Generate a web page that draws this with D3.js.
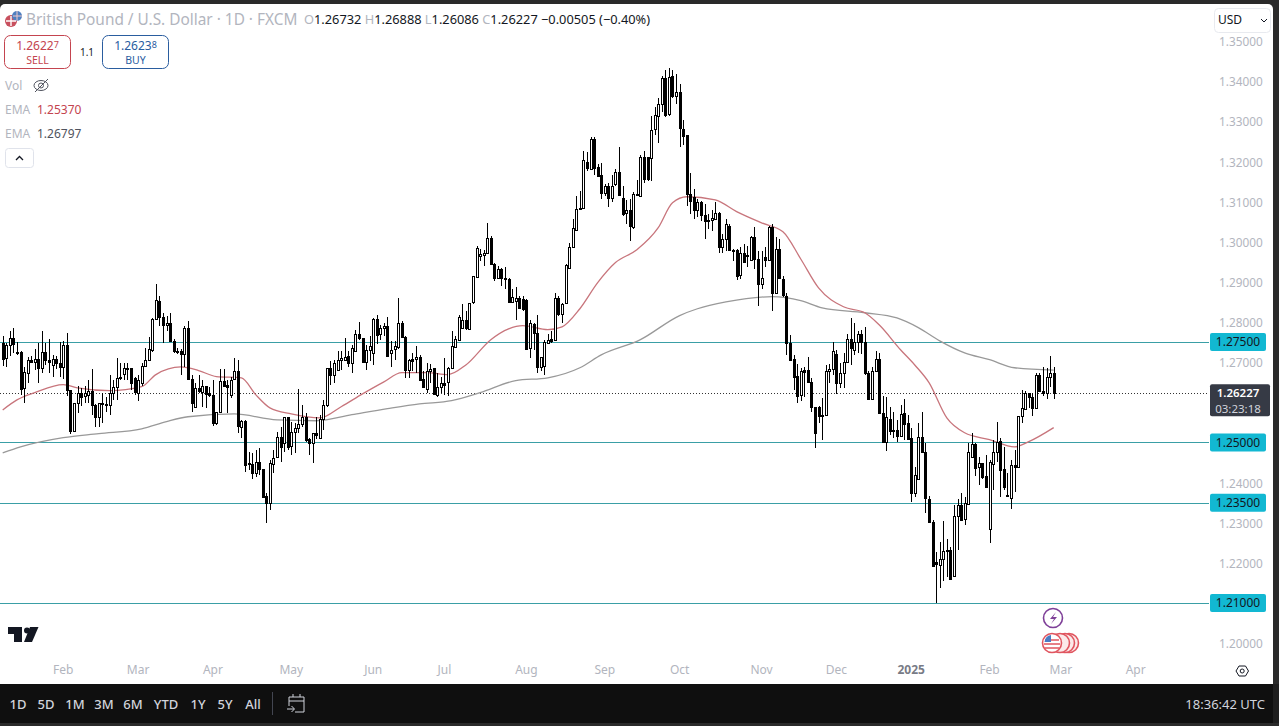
<!DOCTYPE html>
<html><head><meta charset="utf-8">
<script src="https://cdn.jsdelivr.net/npm/d3@7/dist/d3.min.js"></script>
<style>html,body{margin:0;padding:0;background:#fff;overflow:hidden}svg{display:block}text{font-family:"Noto Sans",sans-serif}</style>
</head><body><div id="c"></div>
<script>
const opens=[1.2748,1.2709,1.2742,1.2760,1.2726,1.2726,1.2634,1.2674,1.2706,1.2700,
1.2708,1.2685,1.2725,1.2706,1.2693,1.2708,1.2698,1.2688,1.2743,1.2631,
1.2529,1.2598,1.2624,1.2616,1.2618,1.2627,1.2593,1.2564,1.2598,1.2596,
1.2593,1.2623,1.2638,1.2663,1.2671,1.2685,1.2685,1.2660,1.2624,1.2648,
1.2691,1.2706,1.2731,1.2808,1.2853,1.2812,1.2792,1.2798,1.2753,1.2729,
1.2729,1.2721,1.2785,1.2658,1.2588,1.2635,1.2627,1.2641,1.2623,1.2618,
1.2549,1.2577,1.2654,1.2644,1.2618,1.2656,1.2677,1.2539,1.2553,1.2449,
1.2446,1.2424,1.2452,1.2435,1.2366,1.2348,1.2448,1.2462,1.2513,1.2498,
1.2563,1.2489,1.2525,1.2535,1.2545,1.2563,1.2508,1.2498,1.2523,1.2510,
1.2558,1.2593,1.2685,1.2668,1.2681,
1.2706,1.2706,1.2716,1.2698,1.2727,1.2769,1.2760,1.2700,1.2731,1.2723,
1.2808,1.2769,1.2785,1.2789,1.2723,1.2731,1.2739,1.2798,1.2763,1.2681,
1.2708,1.2708,1.2714,1.2658,1.2631,1.2677,1.2685,1.2619,1.2639,1.2649,
1.2649,1.2685,1.2739,1.2756,1.2785,1.2804,1.2783,1.2848,1.2914,1.2963,
1.2969,1.2973,1.3010,1.2945,1.2910,1.2933,1.2910,1.2906,1.2849,1.2852,
1.2860,1.2858,1.2856,1.2735,1.2794,1.2773,1.2689,1.2689,1.2749,1.2758,
1.2756,1.2860,1.2821,1.2846,1.2935,1.2985,1.3029,1.3082,1.3084,1.3198,
1.3182,1.3257,1.3187,1.3165,1.3121,1.3140,1.3109,1.3142,1.3173,1.3109,
1.3071,1.3078,1.3038,1.3119,1.3115,1.3212,1.3211,1.3209,1.3279,1.3315,
1.3344,1.3409,1.3320,1.3412,1.3363,1.3372,1.3282,1.3265,1.3119,1.3112,
1.3079,1.3100,1.3067,1.3055,1.3052,1.3056,1.3071,1.2986,1.3007,1.3038,
1.2979,1.2979,1.2917,1.2973,1.2967,1.2954,1.3011,1.2957,1.2894,1.2961,
1.2954,1.3037,1.2873,1.2982,1.2906,1.2866,1.2748,1.2708,1.2666,1.2617,
1.2681,1.2681,1.2650,1.2589,1.2589,1.2567,1.2567,1.2677,1.2681,1.2721,
1.2648,1.2673,1.2700,1.2758,1.2729,1.2750,1.2770,1.2750,1.2673,1.2610,
1.2679,1.2708,1.2573,1.2500,1.2558,1.2529,1.2531,1.2517,1.2573,1.2548,
1.2510,1.2374,1.2408,1.2513,1.2475,1.2360,1.2302,1.2202,1.2196,1.2210,
1.2231,1.2233,1.2167,1.2317,1.2345,1.2308,1.2348,1.2463,1.2496,1.2437,
1.2448,1.2416,1.2285,1.2448,1.2477,1.2503,1.2433,1.2368,1.2364,1.2445,
1.2439,1.2564,1.2583,1.2623,1.2613,1.2585,1.2668,1.2629,1.2623,1.2663,
1.26732];
const highs=[1.2766,1.2748,1.2777,1.2785,1.2751,1.2728,1.2688,1.2713,1.2716,1.2733,
1.2748,1.2777,1.2748,1.2758,1.2718,1.2716,1.2750,1.2753,1.2773,1.2631,
1.2598,1.2641,1.2635,1.2641,1.2656,1.2683,1.2596,1.2599,1.2624,1.2614,
1.2668,1.2656,1.2710,1.2699,1.2699,1.2698,1.2685,1.2664,1.2668,1.2698,
1.2735,1.2763,1.2810,1.2894,1.2864,1.2823,1.2814,1.2823,1.2758,1.2735,
1.2733,1.2789,1.2802,1.2668,1.2648,1.2668,1.2656,1.2641,1.2639,1.2656,
1.2577,1.2683,1.2683,1.2656,1.2663,1.2710,1.2706,1.2556,1.2556,1.2477,
1.2473,1.2481,1.2485,1.2435,1.2373,1.2456,1.2481,1.2527,1.2539,1.2564,
1.2563,1.2552,1.2548,1.2633,1.2593,1.2573,1.2510,1.2524,1.2564,1.2568,
1.2606,1.2685,1.2702,1.2706,1.2727,
1.2727,1.2760,1.2727,1.2743,1.2779,1.2800,1.2760,1.2743,1.2766,1.2810,
1.2818,1.2793,1.2798,1.2813,1.2752,1.2752,1.2860,1.2802,1.2764,1.2708,
1.2723,1.2741,1.2718,1.2677,1.2698,1.2696,1.2685,1.2673,1.2664,1.2710,
1.2689,1.2777,1.2764,1.2818,1.2845,1.2827,1.2848,1.2914,1.2989,1.2983,
1.2979,1.3046,1.3014,1.2948,1.2939,1.2935,1.2938,1.2910,1.2881,1.2888,
1.2866,1.2864,1.2858,1.2806,1.2798,1.2818,1.2714,1.2754,1.2771,1.2777,
1.2871,1.2866,1.2848,1.2944,1.2998,1.3056,1.3115,1.3127,1.3227,1.3223,
1.3262,1.3262,1.3194,1.3196,1.3144,1.3146,1.3165,1.3182,1.3237,1.3140,
1.3104,1.3107,1.3123,1.3154,1.3215,1.3226,1.3211,1.3312,1.3336,1.3357,
1.3412,1.3427,1.3432,1.3427,1.3419,1.3393,1.3302,1.3265,1.3172,1.3132,
1.3107,1.3102,1.3094,1.3068,1.3080,1.3100,1.3073,1.3019,1.3057,1.3044,
1.2982,1.2982,1.2986,1.2994,1.2990,1.3015,1.3037,1.2977,1.2976,1.2986,
1.3040,1.3044,1.3011,1.3007,1.2914,1.2873,1.2768,1.2718,1.2695,1.2685,
1.2689,1.2713,1.2660,1.2589,1.2591,1.2610,1.2694,1.2696,1.2750,1.2731,
1.2698,1.2723,1.2771,1.2810,1.2798,1.2778,1.2781,1.2788,1.2677,1.2689,
1.2727,1.2723,1.2616,1.2612,1.2589,1.2577,1.2556,1.2593,1.2608,1.2568,
1.2535,1.2440,1.2549,1.2577,1.2498,1.2366,1.2306,1.2227,1.2252,1.2304,
1.2260,1.2239,1.2343,1.2360,1.2374,1.2364,1.2499,1.2523,1.2498,1.2464,
1.2449,1.2468,1.2456,1.2506,1.2550,1.2510,1.2489,1.2423,1.2456,1.2481,
1.2566,1.2631,1.2629,1.2624,1.2623,1.2673,1.2673,1.2689,1.2685,1.2716,
1.26888];
const lows=[1.2691,1.2688,1.2716,1.2723,1.2718,1.2618,1.2598,1.2648,1.2698,1.2681,
1.2649,1.2674,1.2693,1.2673,1.2664,1.2683,1.2663,1.2658,1.2616,1.2520,
1.2529,1.2573,1.2591,1.2598,1.2598,1.2569,1.2538,1.2539,1.2549,1.2577,
1.2569,1.2606,1.2606,1.2656,1.2656,1.2656,1.2631,1.2618,1.2602,1.2641,
1.2688,1.2706,1.2725,1.2806,1.2789,1.2748,1.2777,1.2752,1.2723,1.2721,
1.2668,1.2688,1.2656,1.2577,1.2588,1.2623,1.2589,1.2587,1.2613,1.2541,
1.2544,1.2577,1.2639,1.2574,1.2610,1.2656,1.2523,1.2510,1.2427,1.2431,
1.2408,1.2414,1.2418,1.2364,1.2299,1.2331,1.2424,1.2460,1.2452,1.2477,
1.2481,1.2468,1.2473,1.2523,1.2539,1.2502,1.2468,1.2448,1.2508,1.2510,
1.2531,1.2589,1.2643,1.2648,1.2681,
1.2681,1.2702,1.2689,1.2674,1.2727,1.2754,1.2699,1.2681,1.2702,1.2693,
1.2745,1.2756,1.2766,1.2714,1.2689,1.2706,1.2733,1.2760,1.2660,1.2660,
1.2677,1.2673,1.2656,1.2639,1.2623,1.2648,1.2619,1.2614,1.2623,1.2619,
1.2616,1.2683,1.2735,1.2756,1.2783,1.2781,1.2781,1.2846,1.2910,1.2952,
1.2939,1.2971,1.2944,1.2902,1.2908,1.2889,1.2881,1.2849,1.2847,1.2806,
1.2835,1.2827,1.2731,1.2710,1.2731,1.2674,1.2677,1.2667,1.2748,1.2748,
1.2756,1.2816,1.2798,1.2846,1.2933,1.2985,1.3027,1.3079,1.3082,1.3177,
1.3179,1.3165,1.3161,1.3107,1.3115,1.3086,1.3098,1.3140,1.3115,1.3065,
1.3044,1.3001,1.3032,1.3115,1.3115,1.3146,1.3152,1.3151,1.3265,1.3246,
1.3323,1.3311,1.3313,1.3359,1.3344,1.3236,1.3240,1.3088,1.3069,1.3057,
1.3061,1.3052,1.3008,1.3032,1.3027,1.3054,1.2973,1.2971,1.2977,1.2976,
1.2952,1.2905,1.2907,1.2948,1.2938,1.2952,1.2932,1.2840,1.2882,1.2936,
1.2952,1.2828,1.2869,1.2907,1.2863,1.2719,1.2702,1.2631,1.2598,1.2602,
1.2614,1.2648,1.2577,1.2487,1.2548,1.2506,1.2566,1.2648,1.2668,1.2620,
1.2635,1.2635,1.2698,1.2694,1.2717,1.2723,1.2721,1.2668,1.2606,1.2610,
1.2678,1.2570,1.2498,1.2478,1.2518,1.2510,1.2502,1.2514,1.2506,1.2506,
1.2352,1.2364,1.2406,1.2473,1.2323,1.2299,1.2191,1.2100,1.2138,1.2156,
1.2166,1.2158,1.2166,1.2231,1.2306,1.2295,1.2348,1.2460,1.2416,1.2395,
1.2408,1.2386,1.2250,1.2381,1.2452,1.2363,1.2381,1.2364,1.2335,1.2377,
1.2438,1.2549,1.2581,1.2586,1.2566,1.2583,1.2627,1.2616,1.2608,1.2639,
1.26086];
const closes=[1.2709,1.2742,1.2760,1.2746,1.2723,1.2635,1.2675,1.2706,1.2700,1.2708,
1.2685,1.2725,1.2706,1.2702,1.2708,1.2698,1.2688,1.2743,1.2631,1.2529,
1.2598,1.2624,1.2614,1.2624,1.2627,1.2591,1.2564,1.2598,1.2596,1.2593,
1.2623,1.2639,1.2660,1.2660,1.2685,1.2683,1.2648,1.2624,1.2656,1.2691,
1.2706,1.2733,1.2808,1.2856,1.2812,1.2792,1.2798,1.2752,1.2729,1.2726,
1.2721,1.2785,1.2658,1.2599,1.2635,1.2627,1.2641,1.2621,1.2618,1.2549,
1.2577,1.2654,1.2642,1.2638,1.2656,1.2677,1.2539,1.2553,1.2444,1.2446,
1.2424,1.2452,1.2435,1.2366,1.2348,1.2448,1.2462,1.2513,1.2487,1.2563,
1.2489,1.2525,1.2535,1.2545,1.2563,1.2506,1.2498,1.2523,1.2519,1.2558,
1.2593,1.2685,1.2668,1.2698,1.2706,
1.2710,1.2714,1.2698,1.2735,1.2769,1.2758,1.2700,1.2731,1.2741,1.2808,
1.2769,1.2785,1.2789,1.2714,1.2731,1.2739,1.2798,1.2763,1.2681,1.2706,
1.2704,1.2714,1.2656,1.2639,1.2677,1.2683,1.2620,1.2639,1.2648,1.2645,
1.2685,1.2739,1.2758,1.2813,1.2804,1.2783,1.2848,1.2914,1.2985,1.2969,
1.2973,1.3010,1.2944,1.2910,1.2933,1.2910,1.2908,1.2849,1.2862,1.2860,
1.2835,1.2833,1.2735,1.2798,1.2771,1.2689,1.2714,1.2749,1.2756,1.2754,
1.2860,1.2819,1.2846,1.2941,1.2988,1.3033,1.3082,1.3084,1.3204,1.3182,
1.3257,1.3186,1.3165,1.3119,1.3138,1.3109,1.3140,1.3173,1.3115,1.3068,
1.3078,1.3038,1.3119,1.3117,1.3212,1.3157,1.3155,1.3279,1.3315,1.3344,
1.3409,1.3318,1.3411,1.3363,1.3372,1.3282,1.3265,1.3119,1.3102,1.3079,
1.3100,1.3067,1.3052,1.3054,1.3058,1.3071,1.2986,1.3007,1.3044,1.2978,
1.2976,1.2915,1.2973,1.2950,1.2964,1.3011,1.2955,1.2894,1.2909,1.2954,
1.3037,1.2873,1.2982,1.2909,1.2866,1.2748,1.2706,1.2664,1.2617,1.2678,
1.2677,1.2650,1.2588,1.2523,1.2566,1.2568,1.2677,1.2683,1.2727,1.2648,
1.2673,1.2700,1.2758,1.2735,1.2750,1.2770,1.2750,1.2673,1.2608,1.2679,
1.2708,1.2573,1.2500,1.2563,1.2529,1.2531,1.2517,1.2571,1.2546,1.2508,
1.2374,1.2418,1.2513,1.2475,1.2360,1.2302,1.2193,1.2196,1.2210,1.2229,
1.2233,1.2160,1.2317,1.2345,1.2308,1.2348,1.2477,1.2496,1.2437,1.2448,
1.2413,1.2388,1.2452,1.2477,1.2502,1.2431,1.2389,1.2365,1.2445,1.2441,
1.2566,1.2585,1.2623,1.2613,1.2585,1.2668,1.2629,1.2625,1.2663,1.2673,
1.26227];
const emaFastBars=[0,4,9,17,21,30,39,43,50,55,60,67,71,75,81,89,95,101,107,112,119,125,130,137,142,146,153,157,162,167,172,178,184,188,192,200,206,213,219,224,229,236,242,246,252,256,260,265,270,277,284,288,295];
const emaFast=[1.2581,1.2606,1.2624,1.2644,1.2636,1.2629,1.2639,1.2669,1.2688,1.2679,1.2664,1.2661,1.2619,1.2586,1.2571,1.2561,1.2589,1.2621,1.2651,1.2674,1.2674,1.2669,1.2693,1.2756,1.2783,1.2791,1.2781,1.2788,1.2833,1.2898,1.2948,1.2980,1.3035,1.3097,1.3112,1.3104,1.3075,1.3047,1.3025,1.2957,1.2885,1.2838,1.2823,1.2793,1.2731,1.2693,1.2649,1.2561,1.2524,1.2507,1.2489,1.2502,1.2537];
const emaSlowBars=[0,5,17,27,39,46,52,65,77,88,98,108,117,126,134,144,153,162,168,179,190,195,203,216,224,230,242,251,257,263,270,277,284,295];
const emaSlow=[1.2474,1.2489,1.2512,1.2522,1.2534,1.2552,1.2564,1.2571,1.2556,1.2554,1.2569,1.2584,1.2596,1.2604,1.2624,1.2654,1.2661,1.2686,1.2718,1.2756,1.2816,1.2833,1.2850,1.2863,1.2853,1.2835,1.2823,1.2810,1.2786,1.2753,1.2723,1.2706,1.2686,1.2680];
const levels=[1.275,1.25,1.235,1.21];
const priceTicks=[1.35,1.34,1.33,1.32,1.31,1.30,1.29,1.28,1.27,1.24,1.23,1.22,1.20];
const timeBars=[17,38,59,81,104,124,147,169,190,213,234,255,277,297,318];
const timeLabels=["Feb","Mar","Apr","May","Jun","Jul","Aug","Sep","Oct","Nov","Dec","2025","Feb","Mar","Apr"];
const ranges=["1D","5D","1M","3M","6M","YTD","1Y","5Y","All"];
const rangeX=[18,46,75,104,133,166,198,225,253];
const lastPrice=1.26227;
const W=1279,H=726;
const svg=d3.select("#c").append("svg").attr("width",W).attr("height",H);
const x=d3.scaleLinear().domain([0,opens.length-1]).range([2.7,1053.7]);
const y=d3.scaleLinear().domain([1.21,1.35]).range([603,41]);
const AX=1209;
const T="#b2b5be";

// frame
svg.append("rect").attr("width",W).attr("height",H).attr("fill","#2a2a2a");
svg.append("rect").attr("x",0).attr("y",4).attr("width",1273).attr("height",690).attr("rx",5).attr("fill","#fff");
svg.append("rect").attr("x",0).attr("y",684).attr("width",1273).attr("height",39).attr("fill","#0f0f0f");
svg.append("rect").attr("x",1273).attr("y",684).attr("width",6).attr("height",39).attr("fill","#1e1e1e");

// level lines
svg.append("g").selectAll("line").data(levels).join("line")
 .attr("x1",0).attr("x2",AX).attr("y1",d=>Math.round(y(d))+.5).attr("y2",d=>Math.round(y(d))+.5)
 .attr("stroke","#3a9fa6").attr("stroke-width",1);
// last price line
svg.append("line").attr("x1",0).attr("x2",AX).attr("y1",Math.round(y(lastPrice))+.5).attr("y2",Math.round(y(lastPrice))+.5)
 .attr("stroke","#333").attr("stroke-dasharray","1 2");

// EMAs
const curve=d3.curveMonotoneX;
const mk=(bars,vals,c,o)=>svg.append("path").datum(bars.map((b,i)=>[b,vals[i]]))
 .attr("fill","none").attr("stroke",c).attr("stroke-width",1.3).attr("stroke-opacity",o)
 .attr("d",d3.line().x(d=>x(d[0])).y(d=>y(d[1])).curve(curve));
mk(emaSlowBars,emaSlow,"#999999",1);
mk(emaFastBars,emaFast,"#c8757c",1);

// candles
const idx=d3.range(opens.length);
const g=svg.append("g").attr("shape-rendering","crispEdges");
g.selectAll("line").data(idx).join("line")
 .attr("x1",i=>Math.round(x(i))+.5).attr("x2",i=>Math.round(x(i))+.5)
 .attr("y1",i=>y(highs[i])).attr("y2",i=>y(lows[i])).attr("stroke","#000");
g.selectAll("rect").data(idx).join("rect")
 .attr("x",i=>Math.round(x(i))-.5).attr("width",2)
 .attr("y",i=>Math.round(y(Math.max(opens[i],closes[i])))+.5)
 .attr("height",i=>Math.max(1,Math.round(Math.abs(y(opens[i])-y(closes[i])))))
 .attr("fill",i=>closes[i]>=opens[i]?"#fff":"#000").attr("stroke","#000");

// price axis
const ax=d3.axisRight(y).tickValues(priceTicks).tickSize(0).tickPadding(0).tickFormat(d=>d.toFixed(5));
const ag=svg.append("g").attr("transform","translate(1219,0.8)").call(ax);
ag.select(".domain").remove();
ag.selectAll("text").attr("fill",T).attr("font-size",11.8).style("font-family",'"Noto Sans",sans-serif');

// level labels
const lv=svg.append("g").selectAll("g").data(levels).join("g").attr("transform",d=>`translate(1210,${y(d)})`);
lv.append("rect").attr("y",-9).attr("width",56).attr("height",18).attr("rx",2).attr("fill","#12b8d2");
lv.append("text").attr("x",28).attr("y",4.3).attr("text-anchor","middle").attr("font-size",12).attr("fill","#131722").text(d=>d.toFixed(5));
// last price box
const ly=y(lastPrice);
svg.append("rect").attr("x",1210).attr("y",ly-9).attr("width",60).attr("height",32).attr("rx",2).attr("fill","#363a45");
svg.append("text").attr("x",1238).attr("y",ly+3.6).attr("text-anchor","middle").attr("font-size",11.5).attr("font-weight",600).attr("fill","#fff").text(lastPrice.toFixed(5));
svg.append("text").attr("x",1238).attr("y",ly+19.6).attr("text-anchor","middle").attr("font-size",11.5).attr("fill","#d1d4dc").text("03:23:18");

// time axis
svg.append("g").selectAll("text").data(timeBars).join("text")
 .attr("x",d=>x(d)).attr("y",674).attr("text-anchor","middle").attr("font-size",12)
 .attr("fill",(d,i)=>timeLabels[i]==="2025"?"#787b86":T).attr("font-weight",(d,i)=>timeLabels[i]==="2025"?700:400)
 .text((d,i)=>timeLabels[i]);

// header
svg.append("text").attr("x",26).attr("y",24.5).attr("font-size",15.4).attr("fill",T).text("British Pound / U.S. Dollar · 1D · FXCM");
const o=svg.append("text").attr("x",304).attr("y",24).attr("font-size",12.8);
[["O",T],["1.26732","#131722"],[" H",T],["1.26888","#131722"],[" L",T],["1.26086","#131722"],[" C",T],["1.26227","#131722"],[" −0.00505 (−0.40%)","#131722"]]
 .forEach(([t,c])=>o.append("tspan").attr("fill",c).attr("xml:space","preserve").text(t));
// flag icon
svg.append("circle").attr("cx",11).attr("cy",21).attr("r",6).attr("fill","#c8505e");
svg.append("circle").attr("cx",17).attr("cy",16).attr("r",5).attr("fill","#4f7fc0");
svg.append("path").attr("d","M6 21H16M11 16V26").attr("stroke","#fff").attr("stroke-width",1.4);
svg.append("path").attr("d","M13 16H22M17 11V21").attr("stroke","#f0c8c8").attr("stroke-width",1);

// sell/buy
const btn=(bx,c,price,sup,label)=>{
 svg.append("rect").attr("x",bx+.5).attr("y",35.5).attr("width",66).attr("height",33).attr("rx",6).attr("fill","#fff").attr("stroke",c);
 const t=svg.append("text").attr("x",bx+33.5).attr("y",50).attr("text-anchor","middle").attr("font-size",12).attr("fill",c);
 t.append("tspan").text(price);t.append("tspan").attr("font-size",9).attr("dy",-2).text(sup);
 svg.append("text").attr("x",bx+33.5).attr("y",63.5).attr("text-anchor","middle").attr("font-size",10.5).attr("fill",c).text(label);
};
btn(4,"#c4444f","1.2622","7","SELL");
btn(102,"#2a5d9f","1.2623","8","BUY");
svg.append("text").attr("x",87).attr("y",56).attr("text-anchor","middle").attr("font-size",10).attr("fill","#131722").text("1.1");
svg.append("text").attr("x",5).attr("y",90).attr("font-size",12).attr("fill",T).text("Vol");
// hidden eye
svg.append("ellipse").attr("cx",41).attr("cy",85.5).attr("rx",7).attr("ry",5).attr("fill","none").attr("stroke","#50535e");
svg.append("circle").attr("cx",41).attr("cy",85.5).attr("r",2.5).attr("fill","none").attr("stroke","#50535e");
svg.append("line").attr("x1",35).attr("y1",92).attr("x2",48).attr("y2",79).attr("stroke","#50535e");
svg.append("text").attr("x",5).attr("y",114).attr("font-size",12).attr("fill",T).text("EMA");
svg.append("text").attr("x",37).attr("y",114).attr("font-size",12).attr("fill","#c4444f").text("1.25370");
svg.append("text").attr("x",5).attr("y",138).attr("font-size",12).attr("fill",T).text("EMA");
svg.append("text").attr("x",37).attr("y",138).attr("font-size",12).attr("fill","#50535e").text("1.26797");
svg.append("rect").attr("x",5.5).attr("y",148.5).attr("width",28).attr("height",19).attr("rx",3).attr("fill","#fff").attr("stroke","#e0e3eb");
svg.append("path").attr("d","M16 160L19.500 156.500L23 160").attr("fill","none").attr("stroke","#131722").attr("stroke-width",1.3);

// currency
svg.append("rect").attr("x",1214.5).attr("y",8.5).attr("width",56).attr("height",24).attr("rx",4).attr("fill","#fff").attr("stroke","#e8eaef");
svg.append("text").attr("x",1218).attr("y",24).attr("font-size",12).attr("fill","#131722").text("USD");
svg.append("path").attr("d","M1261 19L1264 22L1267 19").attr("fill","none").attr("stroke","#131722");

// logo
svg.append("path").attr("d","M8 627H22V642H14V634H8Z").attr("fill","#131722");
svg.append("circle").attr("cx",27).attr("cy",630.500).attr("r",3).attr("fill","#131722");
svg.append("path").attr("d","M30 627H38.500L32 642H24Z").attr("fill","#131722");

// events
svg.append("circle").attr("cx",1053).attr("cy",618).attr("r",9.500).attr("fill","#fff").attr("stroke","#7e3f98").attr("stroke-width",1.6);
svg.append("path").attr("d","M1056 612L1050 619H1054L1051 624L1057 617H1053Z").attr("fill","#7e3f98");
[1069,1065,1060].forEach(cx=>svg.append("circle").attr("cx",cx).attr("cy",643).attr("r",9.500).attr("fill","#fbeaea").attr("stroke","#e0555f").attr("stroke-width",1.6));
svg.append("circle").attr("cx",1052).attr("cy",643).attr("r",9.500).attr("fill","#fff").attr("stroke","#e0555f").attr("stroke-width",1.6);
svg.append("path").attr("d","M1045 640H1059M1044 644H1060M1045 648H1059").attr("stroke","#e0555f").attr("stroke-width",1.5);
svg.append("path").attr("d","M1051 635A8 8 0 0 0 1044.500 642H1051Z").attr("fill","#4a7cc4");

// settings
svg.append("path").attr("d","M1236 671L1239 666H1245.500L1248.500 671L1245.500 676H1239Z").attr("fill","none").attr("stroke","#131722");
svg.append("circle").attr("cx",1242.200).attr("cy",671).attr("r",2).attr("fill","none").attr("stroke","#131722");

// toolbar
svg.append("g").selectAll("text").data(ranges).join("text").attr("x",(d,i)=>rangeX[i]).attr("y",709).attr("text-anchor","middle")
 .attr("font-size",13).attr("font-weight",500).attr("fill","#d1d4dc").text(d=>d);
svg.append("line").attr("x1",272.500).attr("x2",272.500).attr("y1",692).attr("y2",715).attr("stroke","#434651");
svg.append("path").attr("d","M289 697H304V712H295M289 697V706M289 701H304M293 694V697M300 694V697M287 709H294M291.500 706L294.500 709L291.500 712").attr("fill","none").attr("stroke","#d1d4dc");
svg.append("text").attr("x",1265).attr("y",709).attr("text-anchor","end").attr("font-size",13).attr("fill","#d1d4dc").text("18:36:42 UTC");
</script></body></html>
